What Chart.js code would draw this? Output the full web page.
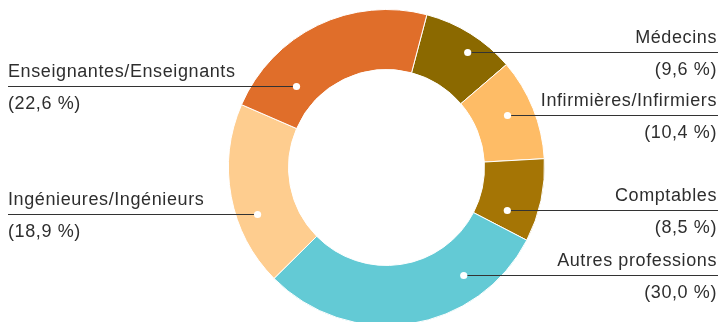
<!DOCTYPE html>
<html>
<head>
<meta charset="utf-8">
<script src="https://cdn.jsdelivr.net/npm/chart.js@4"></script>
<style>
  html, body { margin: 0; padding: 0; background: #fff; overflow: hidden; }
  canvas { display: block; }
</style>
</head>
<body>
<canvas id="canvas" width="721" height="340"></canvas>
<script>
// shares by profession, clockwise from the top
const professions = ['Médecins', 'Infirmières/Infirmiers', 'Comptables', 'Autres professions', 'Ingénieures/Ingénieurs', 'Enseignantes/Enseignants'];
const shares = [9.6, 10.4, 8.5, 30.0, 18.9, 22.6];
const colours = ['#8b6900', '#febc66', '#a57505', '#63cad5', '#fecd8f', '#e06e2a'];

// where the leader dot sits inside each slice (fraction of angle, fraction of ring width)
const dotAngle = [0.59, 0.46, 0.735, 0.248, 0.365, 0.23];
const dotRadius = [0.715, 0.565, 0.5, 0.567, 0.65, 0.39];

const fmt = v => '(' + v.toFixed(1).replace('.', ',') + ' %)';

const leaderLabels = {
  id: 'leaderLabels',
  afterDatasetsDraw(chart) {
    const ctx = chart.ctx;
    const meta = chart.getDatasetMeta(0);
    ctx.save();
    ctx.font = '18px "Liberation Sans", Arial, sans-serif';
    ctx.letterSpacing = '0.6px';
    meta.data.forEach((arc, i) => {
      const p = arc.getProps(['x', 'y', 'startAngle', 'endAngle', 'innerRadius', 'outerRadius'], true);
      const a = p.startAngle + dotAngle[i] * (p.endAngle - p.startAngle);
      const r = p.innerRadius + dotRadius[i] * (p.outerRadius - p.innerRadius);
      const px = p.x + r * Math.cos(a);
      const py = Math.round(p.y + r * Math.sin(a)) + 0.5;
      const right = Math.cos(a) > 0;
      const edge = right ? chart.width - 3 : 8;

      ctx.strokeStyle = '#333';
      ctx.lineWidth = 1;
      ctx.beginPath();
      ctx.moveTo(px, py);
      ctx.lineTo(edge, py);
      ctx.stroke();

      ctx.fillStyle = '#fff';
      ctx.beginPath();
      ctx.arc(px, py, 3.6, 0, Math.PI * 2);
      ctx.fill();

      ctx.fillStyle = '#2e2e2e';
      ctx.textAlign = right ? 'right' : 'left';
      ctx.textBaseline = 'alphabetic';
      const tx = right ? chart.width - 4 : 8;
      ctx.fillText(professions[i], tx, py - 10);
      ctx.fillText(fmt(shares[i]), tx, py + 22.5);
    });
    ctx.restore();
  }
};

new Chart(document.getElementById('canvas').getContext('2d'), {
  type: 'doughnut',
  data: {
    labels: professions,
    datasets: [{
      data: shares,
      backgroundColor: colours,
      borderColor: '#fff',
      borderWidth: 1
    }]
  },
  options: {
    responsive: false,
    animation: false,
    rotation: 14.8,
    cutout: '62%',
    layout: { padding: { top: 9, bottom: 14, left: 52, right: 0 } },
    plugins: {
      legend: { display: false },
      tooltip: { enabled: false }
    }
  },
  plugins: [leaderLabels]
});
</script>
</body>
</html>
